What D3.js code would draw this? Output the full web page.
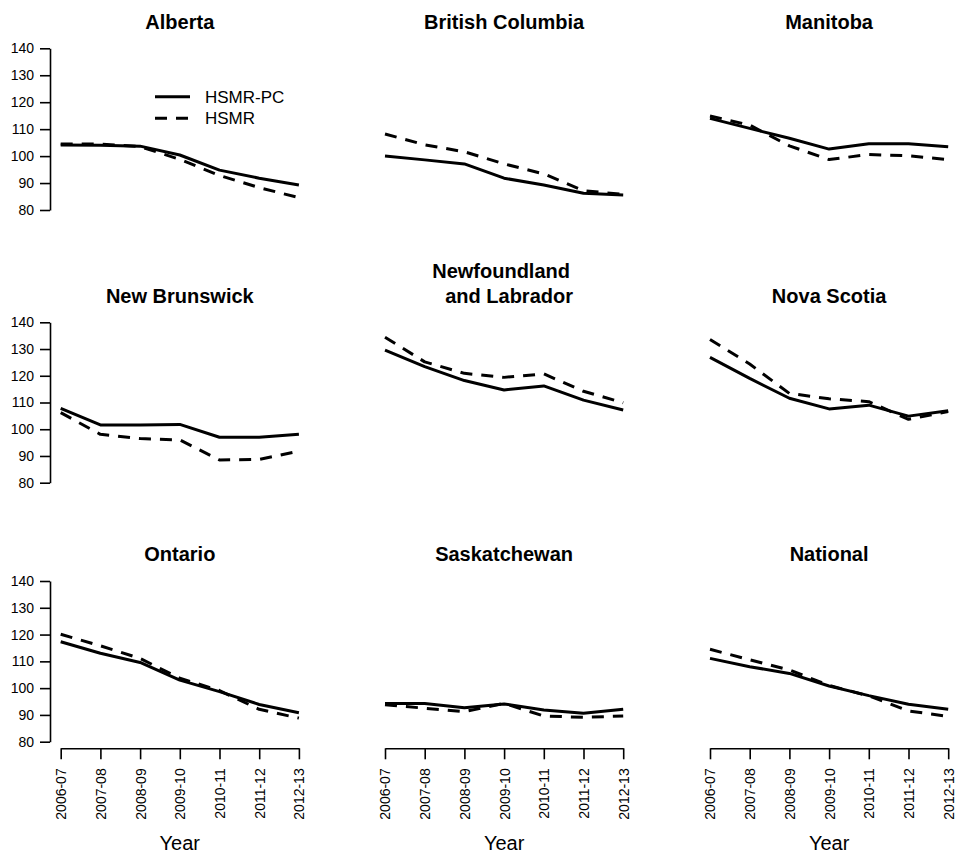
<!DOCTYPE html>
<html>
<head>
<meta charset="utf-8">
<script src="https://cdn.jsdelivr.net/npm/d3@7"></script>
<style>
  html, body { margin: 0; padding: 0; background: #fff; }
  svg { display: block; }
  text { font-family: "Liberation Sans", Arial, sans-serif; fill: #000; }
</style>
</head>
<body>
<svg id="chart" width="955" height="853"></svg>
<script>
// ---- Data ----
const years = ["2006-07", "2007-08", "2008-09", "2009-10", "2010-11", "2011-12", "2012-13"];
const regions = ["Alberta", "British Columbia", "Manitoba",
                 "New Brunswick", "Newfoundland\nand Labrador", "Nova Scotia",
                 "Ontario", "Saskatchewan", "National"];
const yTicks = [80, 90, 100, 110, 120, 130, 140];
const seriesNames = ["HSMR-PC", "HSMR"];

// HSMR-PC (solid) per region, in the order of `regions`
const hsmrPC = [
  [104.1, 104.0, 103.7, 100.4, 94.8, 91.8, 89.3],   // Alberta
  [100.0, 98.6, 97.1, 91.8, 89.3, 86.2, 85.6],      // British Columbia
  [114.0, 110.3, 106.6, 102.6, 104.6, 104.6, 103.5],// Manitoba
  [107.8, 101.6, 101.6, 101.8, 97.0, 97.0, 98.1],   // New Brunswick
  [129.6, 123.4, 118.2, 114.7, 116.2, 110.9, 107.2],// Newfoundland and Labrador
  [126.9, 119.0, 111.6, 107.6, 109.0, 104.9, 106.9],// Nova Scotia
  [117.3, 113.0, 109.6, 103.0, 98.7, 93.9, 90.8],   // Ontario
  [94.3, 94.3, 92.7, 94.1, 91.8, 90.6, 92.1],       // Saskatchewan
  [111.1, 108.0, 105.5, 100.8, 97.2, 94.0, 92.1]    // National
];
// HSMR (dashed)
const hsmr = [
  [104.5, 104.5, 103.5, 98.8, 92.8, 88.3, 84.6],
  [108.2, 104.2, 101.6, 97.1, 93.4, 87.2, 85.8],
  [114.9, 111.5, 103.8, 98.7, 100.6, 100.1, 98.7],
  [106.2, 98.1, 96.5, 96.0, 88.5, 88.7, 91.8],
  [134.4, 125.2, 120.9, 119.4, 120.7, 114.2, 109.9],
  [133.6, 124.4, 113.4, 111.4, 110.3, 103.7, 106.6],
  [120.1, 115.8, 111.1, 103.7, 99.1, 92.1, 88.8],
  [93.8, 92.5, 91.2, 94.3, 89.6, 89.1, 89.6],
  [114.5, 110.6, 106.8, 101.0, 97.1, 91.5, 89.4]
];

// ---- Layout ----
const colX0 = [60.7, 385, 710];
const colW = 238.2;
const rowY140 = [48.3, 322.3, 581];
const rowY80 = [210, 482.7, 741.7];
const yAxisX = 50;
const xAxisY = 748.3;
const lineW = 3;
const dash = "12,9";

const svg = d3.select("#chart");

regions.forEach((name, i) => {
  const r = Math.floor(i / 3), c = i % 3;
  const x = d3.scalePoint().domain(years).range([colX0[c], colX0[c] + colW]);
  const y = d3.scaleLinear().domain([80, 140]).range([rowY80[r], rowY140[r]]);
  const g = svg.append("g");

  // Title
  const cx = colX0[c] + colW / 2;
  const lines = name.split("\n");
  const titleBase = rowY140[r] - 19.8 - (lines.length - 1) * 25;
  lines.forEach((ln, k) => {
    g.append("text")
      .attr("x", cx + (k > 0 ? 5 : -3 * (lines.length - 1)))
      .attr("y", titleBase + k * 25)
      .attr("text-anchor", "middle")
      .style("font-size", "20px")
      .style("font-weight", "bold")
      .text(ln);
  });

  // Y axis (left column only)
  if (c === 0) {
    const ya = g.append("g")
      .attr("transform", `translate(${yAxisX},0)`)
      .call(d3.axisLeft(y).tickValues(yTicks).tickSize(10).tickSizeOuter(0).tickPadding(6));
    ya.selectAll("path, line").attr("stroke", "#000").attr("stroke-width", 1.6);
    ya.selectAll("text").style("font-size", "14px")
      .style("font-family", '"Liberation Sans", Arial, sans-serif').attr("fill", "#000");
  }

  // X axis (bottom row only)
  if (r === 2) {
    const xa = g.append("g")
      .attr("transform", `translate(0,${xAxisY})`)
      .call(d3.axisBottom(x).tickSize(11).tickSizeOuter(0));
    xa.selectAll("path, line").attr("stroke", "#000").attr("stroke-width", 1.6);
    xa.selectAll("text")
      .attr("transform", "rotate(-90)")
      .attr("x", -20).attr("y", 0).attr("dy", "0.35em")
      .style("text-anchor", "end")
      .style("font-size", "14px")
      .style("font-family", '"Liberation Sans", Arial, sans-serif')
      .attr("fill", "#000");
    g.append("text")
      .attr("x", cx).attr("y", 850)
      .attr("text-anchor", "middle")
      .style("font-size", "20px")
      .text("Year");
  }

  const line = d3.line().x((d, k) => x(years[k])).y(d => y(d));
  g.append("path").datum(hsmr[i]).attr("d", line)
    .attr("fill", "none").attr("stroke", "#000").attr("stroke-width", lineW)
    .attr("stroke-dasharray", dash).attr("stroke-linejoin", "round");
  g.append("path").datum(hsmrPC[i]).attr("d", line)
    .attr("fill", "none").attr("stroke", "#000").attr("stroke-width", lineW)
    .attr("stroke-linejoin", "round");
});

// Legend (in first panel)
const leg = svg.append("g");
const legItems = [
  { name: seriesNames[0], y: 96.7, dash: null },
  { name: seriesNames[1], y: 118.3, dash: dash }
];
legItems.forEach(it => {
  leg.append("line").attr("x1", 155).attr("x2", 190).attr("y1", it.y).attr("y2", it.y)
    .attr("stroke", "#000").attr("stroke-width", lineW)
    .attr("stroke-dasharray", it.dash);
  leg.append("text").attr("x", 205).attr("y", it.y).attr("dy", "0.36em")
    .style("font-size", "17px").text(it.name);
});
</script>
</body>
</html>
